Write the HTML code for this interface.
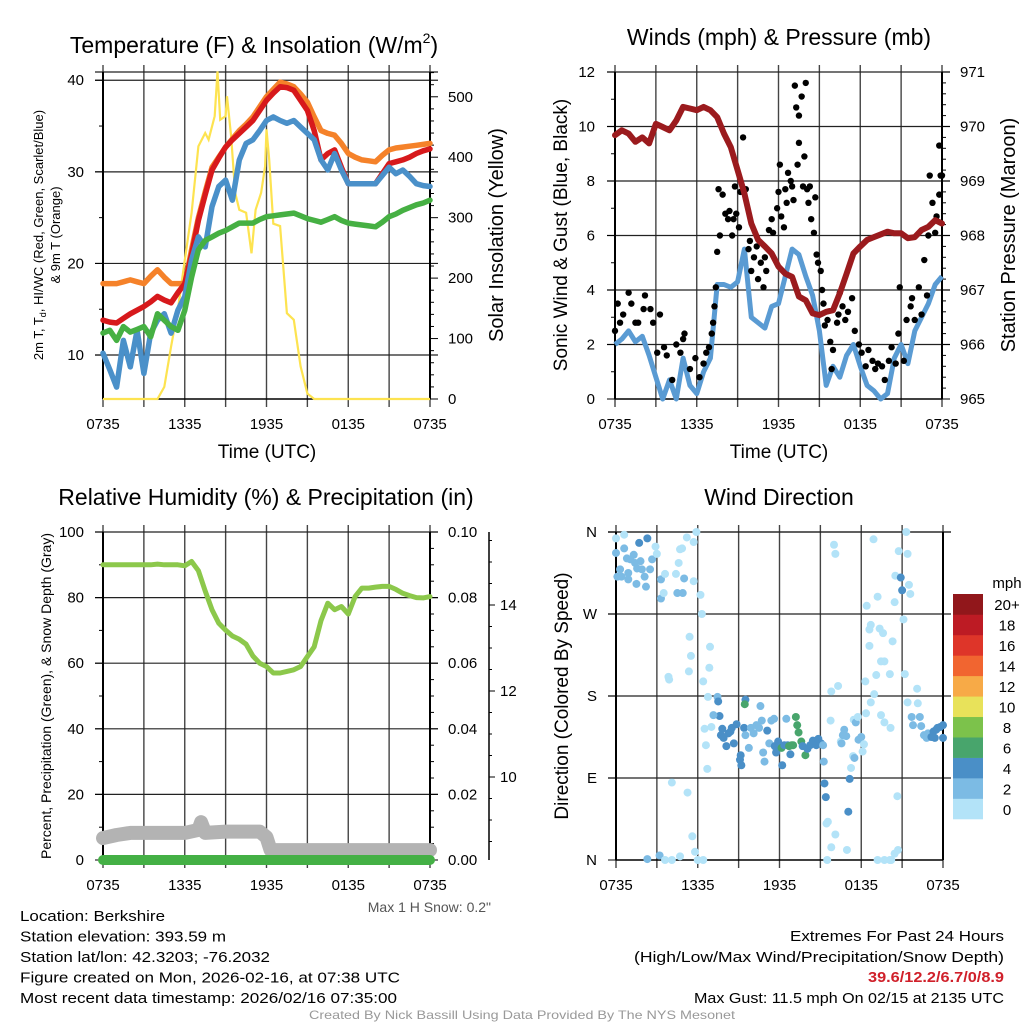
<!DOCTYPE html>
<html><head><meta charset="utf-8"><style>
body{margin:0;background:#fff}
svg{display:block;font-family:"Liberation Sans",sans-serif}
</style></head><body>
<svg id="c" width="1024" height="1024" viewBox="0 0 1024 1024" xmlns="http://www.w3.org/2000/svg"></svg>
<script>
// ===== DATA =====
const hours = [0,0.5,1,1.5,2,2.5,3,3.5,4,4.5,5,5.5,6,6.5,7,7.5,8,8.5,9,9.5,10,10.5,11,11.5,12,12.5,13,13.5,14,14.5,15,15.5,16,16.5,17,17.5,18,18.5,19,19.5,20,20.5,21,21.5,22,22.5,23,23.5,24];
const tempRed = [13.8,13.6,13.5,14,14.5,14.9,15.3,15.8,16.4,16,15.7,16.8,17.8,21,24.7,27.5,30.2,31.5,32.7,33.5,34.2,34.9,35.6,36.7,37.8,38.6,39.3,39.2,38.9,37.8,36.7,34.5,31.3,32,32.4,30.5,28.7,28.7,28.7,28.7,28.7,29.8,30.9,31.1,31.3,31.6,32,32.3,32.5];
const tempOrange = [17.8,17.8,17.8,18,18.2,18,17.8,18.6,19.3,18.5,17.8,17.8,17.8,21.5,25,27.8,30.5,31.6,32.7,33.6,34.5,35.2,36,37.1,38.2,39,39.8,39.6,39.3,38.5,37.6,36,34.5,34.2,34,33.1,32,31.6,31.3,31.2,31.1,31.8,32.4,32.6,32.7,32.8,32.9,33,33.1];
const hiwcBlue = [10.2,8.4,6.5,11.6,8.7,12.7,8,12.4,13.8,14.5,12.4,14.9,16.4,20.4,22.9,21.8,26.2,28.4,29.1,26.9,31.3,33.1,33.5,34.5,35.6,36,35.6,35.3,35.6,34.9,34.2,33.5,31.3,30.2,32,30.2,28.7,28.7,28.7,28.7,28.7,29.6,30.5,29.8,30.2,29.5,28.7,28.5,28.4];
const dewGreen = [12.4,12.7,11.6,13.1,12.5,12.8,13.1,12,14.5,13.8,13.1,12.7,14.9,18.5,21.5,22.5,22.9,23.3,23.6,24,24.4,24.4,24.4,24.8,25.1,25.2,25.3,25.4,25.5,25.2,24.9,24.7,24.5,24.8,25.1,24.7,24.4,24.3,24.2,24.1,24,24.5,25.1,25.4,25.8,26.1,26.4,26.6,26.9];
const solarHours = [0,4,4.5,5,5.5,6,6.5,7,7.5,7.75,8.2,8.4,8.6,9,9.1,9.4,9.7,10,10.5,10.9,11.2,11.6,11.9,12,12.2,12.5,13,13.5,14,14.5,15,15.5,24];
const solarW = [0,0,20,87,148,230,308,418,440,429,468,542,462,468,501,435,341,313,308,241,313,341,385,446,396,290,286,142,131,54,9,0,0];
const pressure = [969.84,969.93,969.87,969.72,969.8,969.69,970.05,969.99,969.93,970.11,970.36,970.33,970.3,970.36,970.3,970.17,969.87,969.62,969.2,968.77,968.22,967.92,967.8,967.67,967.43,967.3,967.24,966.88,966.81,966.57,966.54,966.6,966.63,966.94,967.3,967.67,967.8,967.92,967.97,968.02,968.07,968.04,968.04,967.95,967.97,968.1,968.16,968.28,968.22];
const windSpeed = [2,2.2,2.5,2.1,2.3,1.6,0.8,0,0.7,0,1.5,0.5,0.2,1,1.5,4.2,4.2,4.1,4.3,5.5,3,2.8,2.6,3.4,3.5,4.5,5.5,5.3,4.5,3.8,2.5,0.5,1.2,0.8,1.6,2,1.2,0.5,0.3,0,0.2,1.5,2,1.3,2.5,3,3.5,4.2,4.5];
const gustT = [0,0.2,0.37,0.6,1,1.2,1.5,1.7,2.1,2.2,2.6,2.8,3.1,3.3,3.6,3.8,4.2,4.5,4.8,5,5.1,5.5,5.9,6.2,6.5,6.7,6.9,7.1,7.2,7.3,7.4,7.5,7.6,7.7,7.9,8.1,8.3,8.4,8.6,8.7,8.8,8.9,9.1,9.2,9.4,9.6,9.8,9.9,10,10.2,10.4,10.5,10.7,10.9,11,11.1,11.3,11.5,11.6,11.9,12,12.1,12.2,12.4,12.5,12.6,12.7,12.9,13,13.1,13.2,13.3,13.4,13.5,13.5,13.7,13.8,13.9,14,14.1,14.2,14.3,14.4,14.6,14.7,14.8,14.9,15.1,15.2,15.3,15.4,15.6,15.8,15.9,16,16.3,16.4,16.5,16.7,16.9,17.1,17.4,17.6,17.9,18.1,18.4,18.6,18.9,19.1,19.3,19.6,19.8,20.1,20.3,20.6,20.8,20.9,21.2,21.4,21.7,21.8,22,22.3,22.5,22.7,22.9,23,23.1,23.3,23.5,23.6,23.8,23.8,23.9,24];
const gustV = [2.5,3.5,2.8,3.1,3.9,3.5,2.8,2.8,3.3,3.8,3.3,2.8,1.7,3.1,1.9,1.6,0.7,2,1.7,2.2,2.4,1.1,1.5,0.8,1.3,1.7,1.9,2.4,2.8,3.4,4.1,5.4,7.7,6,7.5,6.8,6.6,6.9,6,6.6,7.8,6.8,6.3,7.6,9.6,7.7,5.5,5.8,4.7,5.2,5.6,4.4,5,4.1,5.2,4.7,6.2,6.6,6.1,7,7.6,8.6,6.7,6.3,7.7,7.2,8.3,8,7.8,7.3,11.5,10.7,8.6,9.4,10.4,11.1,7.8,8.9,11.6,7.7,7.2,7.8,6.6,6.1,7.4,5.3,5,4.7,4,3.5,2.7,2.9,2.1,1.1,1.8,2.8,3.1,3.9,3.4,2.9,3.2,3.7,2.5,2,1.7,1.2,1.8,1.4,1.1,1.3,1.2,0.7,1.4,1.9,1.3,2.4,4.1,1.4,2.9,3.4,3.7,2.9,4.1,3.1,5.1,3.8,6,8.2,7.2,6.1,6.7,7.5,9.3,8.2,8.2];
const rh = [90,90,90,90,90,90,90,90,90.2,90,90,90,89.7,91,88.2,82,76.3,72.2,70.1,68.3,67.3,65.8,62.2,60,59,57,57,57.5,58,59,62,65,73,78.3,76.3,77.3,75,80.3,82.9,82.9,83.2,83.4,83.4,82.5,81.3,80.6,80,79.9,80.3];
const snowHours = [0,1,2,4,6,7,7.2,7.5,9,11.5,12,12.3,24];
const snowDepth = [8.58,8.65,8.7,8.7,8.7,8.77,8.95,8.7,8.73,8.73,8.6,8.3,8.3];
const precipHours = [0,24];
const precip = [0,0];
const dirT = [0,0,0.6,0.6,0.8,0.3,0.4,0.9,1.05,1.3,1.4,1.55,1.7,1.8,1.9,2.1,2.3,2.2,2.5,2.65,2.9,3,1.5,0.9,0.1,3.3,3.3,3.6,3.5,4.4,4.5,4.9,5,4.6,4.7,4.85,5.2,5.7,5.9,5.7,6.2,6.3,
5.4,5.5,5.35,3.85,3.9,6.4,6.9,6.85,6.75,6.5,6.6,6.7,4.1,5.25,5.6,5.8,3.2,2.3,3.6,4.1,4.7,6,6.4,
7.45,7.5,7.6,7.15,7,7.8,7.7,7.9,8.1,8.25,8.4,8.5,8.65,8.85,9.1,9.15,9.2,9.4,9.5,9.45,9.5,9.75,9.9,10.1,10.3,10.5,10.6,10.7,10.8,10.9,11.1,11.25,11.4,11.6,11.65,11.75,11.9,12,12.15,12.2,12.35,12.5,12.6,12.8,12.7,12.9,13,13.2,13.3,13.4,13.6,13.7,13.9,14.05,14.25,14.45,14.7,14.85,15.05,15.2,15.25,15.3,15.4,15.55,15.45,15.8,16.1,15.5,15.75,15.8,16.3,16,16.1,
16.5,16.65,16.75,16.9,16.55,16.95,17.05,17.15,17.25,17.4,17.5,17.45,17.6,17.75,17.8,18,18.1,18.2,18.35,18.3,18.4,18.6,18.7,18.6,18.7,18.95,19.1,18.9,19.2,19.35,19.45,19.6,19.7,19.45,19.7,20.1,20.15,20.3,20.45,20.5,20.75,20.9,21,21.1,21.2,21.3,21.4,21.5,21.6,21.4,22.1,22.15,21.7,21.8,22.3,22.4,22.6,22.8,22.9,23.15,23.3,23.4,23.5,23.6,23.8,24,24,20.65,20.7,20.45,19.2,19.7,20.1,20.2];
const dirDeg = [337,353,342,357,331,319,311,315,330,335,326,320,348,328,319,311,353,300,319,330,344,336,303,308,311,308,287,314,293,314,293,293,309,326,341,342,354,349,360,306,291,270,
245,224,207,201,198,196,234,211,179,144,126,100,85,74,26,9,5,1,0,0,4,0,0,
179,174,158,159,146,144,137,134,125,139,141,145,128,149,110,115,104,145,176,171,137,123,145,139,148,145,169,153,118,108,142,128,153,155,125,118,130,125,123,104,126,155,126,116,125,126,126,157,148,140,130,125,115,122,126,131,126,133,128,126,108,84,69,42,40,14,28,0,153,185,191,346,336,
130,137,143,136,128,11,53,89,101,114,112,154,151,157,132,135,119,127,161,196,279,253,258,235,173,182,203,352,289,254,218,249,218,159,151,204,145,240,283,312,339,310,296,264,204,360,336,302,292,173,188,172,157,148,157,147,137,134,139,135,141,134,143,145,146,148,134,70,11,7,0,0,0,0];
const dirSpd = [3,1,3,1,3,3,3,3,3,3,3,3,5,3,3,3,5,3,3,3,1,1,3,3,3,3,3,1,1,1,3,3,3,1,1,1,1,1,1,1,1,1,
1,1,1,1,1,1,1,1,1,1,1,1,1,1,1,1,3,3,1,1,1,1,1,
3,5,5,3,1,5,5,5,5,5,5,5,5,5,5,5,5,5,5,7,3,3,3,3,3,3,3,3,3,3,5,3,3,3,5,5,5,5,7,5,5,3,5,5,7,7,7,7,7,7,7,5,7,5,5,5,5,5,5,3,3,5,5,1,1,1,1,1,1,1,1,1,1,
1,3,3,3,3,1,5,5,1,1,3,1,3,1,3,3,1,1,1,1,1,1,1,1,1,1,1,1,1,1,1,1,1,1,1,1,1,1,1,1,1,5,5,1,1,1,1,1,1,1,1,1,3,3,3,3,3,3,3,5,5,5,5,5,5,5,5,1,1,1,1,1,1,1];
const timeLabels = ["0735","1335","1935","0135","0735"];
const colorbarLabels = ["0","2","4","6","8","10","12","14","16","18","20+"];
const colorbarColors = ["#b3e3f8","#7cbbe4","#4a8fc7","#48a56c","#7cc24b","#e8e25a","#f7aa47","#f16530","#de3529","#bd1b24","#91171b"];

// ===== DRAWING =====
const S = document.getElementById('c');
const NS = 'http://www.w3.org/2000/svg';
function mk(tag, attrs, parent, txt){
  const e = document.createElementNS(NS, tag);
  for (const k in attrs) e.setAttribute(k, attrs[k]);
  if (txt !== undefined) e.textContent = txt;
  (parent || S).appendChild(e);
  return e;
}
const X0 = 103, X1 = 430;
function xs(off){ return t => off + X0 + t / 24 * (X1 - X0); }
function lin(d0, d1, p0, p1){ return v => p0 + (v - d0) / (d1 - d0) * (p1 - p0); }
function pathOf(ts, vs, fx, fy){ return ts.map((t,i)=>(i?'L':'M')+fx(t).toFixed(1)+','+fy(vs[i]).toFixed(1)).join(''); }

function frame(g, off, top, bot, hgrid){
  const fx = xs(off);
  for (let i=0;i<=8;i++){
    const x = fx(i*3);
    const l = mk('line',{x1:x,y1:top-7,x2:x,y2:bot+8,stroke:'#444','stroke-width':1.4},g);
    
    
  }
  hgrid.forEach(y=>{
    const l = mk('line',{x1:off+X0-8,y1:y,x2:off+X1+8,y2:y,stroke:'#222','stroke-width':1.2},g);
    
    
  });
  mk('line',{x1:off+X0,y1:top,x2:off+X0,y2:bot,stroke:'#000','stroke-width':2},g);
  mk('line',{x1:off+X1,y1:top,x2:off+X1,y2:bot,stroke:'#000','stroke-width':2},g);
  mk('line',{x1:off+X0,y1:bot,x2:off+X1,y2:bot,stroke:'#000','stroke-width':1.5},g);
  timeLabels.forEach((s,i)=>{
    const t = mk('text',{x:fx(i*6),y:bot+30,'font-size':15,'text-anchor':'middle'},g,s);
    
    
  });
}
function ticks(g, x, vals, fy, len, fmt, anchor, lx, minor){
  vals.forEach(v=>{
    mk('line',{x1:x,y1:fy(v),x2:x+len,y2:fy(v),stroke:'#000','stroke-width':1},g);
    const t = mk('text',{x:lx,y:fy(v)+5,'font-size':15,'text-anchor':anchor},g,fmt(v));
    
    
  });
  (minor||[]).forEach(v=>mk('line',{x1:x,y1:fy(v),x2:x+len/2,y2:fy(v),stroke:'#000','stroke-width':1},g));
}
function title(txt, x, y, size, rot, name){
  const a = {x:x,y:y,'font-size':size,'text-anchor':'middle'};
  if (rot) a.transform = 'rotate(-90 '+x+' '+y+')';
  const t = mk('text',a,S,txt);
  
  
  return t;
}

// ---- Panel 1: temperature ----
(function(){
  const g = mk('g',{});  
  const fx = xs(0), fy = lin(5.2,40.9,399,72), fs = lin(0,541,399,72);
  frame(g,0,72,399,[72,fy(10),fy(20),fy(30),fy(40)]);
  ticks(g,X0,[10,20,30,40],fy,-8,v=>v,'end',84,[15,25,35]);
  ticks(g,X1,[0,100,200,300,400,500],fs,8,v=>v,'start',448,[20,40,60,80,120,140,160,180,220,240,260,280,320,340,360,380,420,440,460,480,520,540]);
  const lines = [[hours,tempOrange,'#f5822a','temperature-9m-line'],[hours,tempRed,'#d7191c','temperature-2m-line'],[hours,hiwcBlue,'#4a90c9','heat-index-wind-chill-line'],[hours,dewGreen,'#46b043','dewpoint-line']];
  const sp = mk('path',{d:pathOf(solarHours,solarW,fx,fs),fill:'none',stroke:'#fde350','stroke-width':2.2},g);
   
  lines.forEach(l=>{
    const p = mk('path',{d:pathOf(l[0],l[1],fx,fy),fill:'none',stroke:l[2],'stroke-width':5.5,'stroke-linejoin':'round','stroke-linecap':'round'},g);
     
  });
})();
const t1 = title('Temperature (F) & Insolation (W/m',254,53,23,false,'temperature-chart-title');
mk('tspan',{'font-size':14,dy:-10},t1,'2'); mk('tspan',{dy:10},t1,')');
title('Time (UTC)',267,458,19,false,'x-axis-title');
const yl = mk('text',{x:43,y:235,'font-size':13,'text-anchor':'middle',transform:'rotate(-90 43 235)'});
 
yl.appendChild(document.createTextNode('2m T, T'));
mk('tspan',{'font-size':9,dy:3},yl,'d'); mk('tspan',{dy:-3},yl,', HI/WC (Red, Green, Scarlet/Blue)');
title('& 9m T (Orange)',60,235,13,true,'temperature-y-axis-title-2');
title('Solar Insolation (Yellow)',503,235,20,true,'solar-y-axis-title');

// ---- Panel 2: winds ----
(function(){
  const off = 512;
  const g = mk('g',{});  
  const fx = xs(off), fy = lin(0,12,399,72), fp = lin(965,971,399,72);
  frame(g,off,72,399,[72,fy(2),fy(4),fy(6),fy(8),fy(10)]);
  ticks(g,off+X0,[0,2,4,6,8,10,12],fy,-8,v=>v,'end',595,[1,3,5,7,9,11]);
  ticks(g,off+X1,[965,966,967,968,969,970,971],fp,8,v=>v,'start',960,[965.2,965.4,965.6,965.8,966.2,966.4,966.6,966.8,967.2,967.4,967.6,967.8,968.2,968.4,968.6,968.8,969.2,969.4,969.6,969.8,970.2,970.4,970.6,970.8]);
  const w = mk('path',{d:pathOf(hours,windSpeed,fx,fy),fill:'none',stroke:'#5a9bd3','stroke-width':5,'stroke-linejoin':'round'},g);
   
  gustT.forEach((t,i)=>{
    const c = mk('circle',{cx:fx(t),cy:fy(gustV[i]),r:3.2,fill:'#000'},g);
    
    
  });
  const p = mk('path',{d:pathOf(hours,pressure,fx,fp),fill:'none',stroke:'#9b1b1e','stroke-width':6,'stroke-linejoin':'round','stroke-linecap':'round'},g);
   
})();
title('Winds (mph) & Pressure (mb)',779,45,23,false,'winds-chart-title');
title('Time (UTC)',779,458,19,false,'x-axis-title');
title('Sonic Wind & Gust (Blue, Black)',567,235,19,true,'wind-y-axis-title');
title('Station Pressure (Maroon)',1015,235,20,true,'pressure-y-axis-title');

// ---- Panel 3: RH ----
(function(){
  const g = mk('g',{});  
  const fx = xs(0), fy = lin(0,100,860,532), fpr = lin(0,0.1,860,532), fsn = lin(10,12,777,691);
  frame(g,0,532,860,[532,fy(20),fy(40),fy(60),fy(80)]);
  ticks(g,X0,[0,20,40,60,80,100],fy,-8,v=>v,'end',84,[10,30,50,70,90]);
  ticks(g,X1,[0,0.02,0.04,0.06,0.08,0.1],fpr,8,v=>v.toFixed(2),'start',448,[0.005,0.01,0.015,0.025,0.03,0.035,0.045,0.05,0.055,0.065,0.07,0.075,0.085,0.09,0.095]);
  mk('line',{x1:489,y1:532,x2:489,y2:860,stroke:'#000','stroke-width':1.5},g);
  ticks(g,489,[10,12,14],fsn,6,v=>v,'start',500,[8.5,9,9.5,10.5,11,11.5,12.5,13,13.5,14.5,15,15.5]);
  const sn = mk('path',{d:pathOf(snowHours,snowDepth,fx,fsn),fill:'none',stroke:'#b3b3b3','stroke-width':14,'stroke-linejoin':'round','stroke-linecap':'round'},g);
   
  const pr = mk('path',{d:pathOf(precipHours,precip,fx,fpr),fill:'none',stroke:'#44b045','stroke-width':10,'stroke-linecap':'round'},g);
   
  const r = mk('path',{d:pathOf(hours,rh,fx,fy),fill:'none',stroke:'#8cc84b','stroke-width':5,'stroke-linejoin':'round','stroke-linecap':'round'},g);
   
})();
title('Relative Humidity (%) & Precipitation (in)',266,505,23,false,'humidity-chart-title');
title('Percent, Precipitation (Green), & Snow Depth (Gray)',51,696,14,true,'humidity-y-axis-title');
const ms = mk('text',{x:491,y:912,'font-size':14,'text-anchor':'end',fill:'#555'},S,'Max 1 H Snow: 0.2"');
 

// ---- Panel 4: wind direction ----
(function(){
  const off = 513;
  const g = mk('g',{});  
  const fx = xs(off), fy = lin(0,360,860,532);
  frame(g,off,532,860,[532,fy(90),fy(180),fy(270),fy(360)]);
  ticks(g,off+X0,[0,90,180,270,360],fy,-8,v=>['N','E','S','W','N'][v/90],'end',597,[]);
  function bin(s){ return Math.min(10, Math.floor(s/2)); }
  dirT.forEach((t,i)=>{
    const c = mk('circle',{cx:fx(t),cy:fy(dirDeg[i]),r:4,fill:colorbarColors[bin(dirSpd[i])]},g);
    
    
  });
  const cb = mk('g',{});  
  const h = (819-594)/colorbarColors.length;
  colorbarColors.forEach((col,i)=>{
    const y = 819 - (i+1)*h;
    mk('rect',{x:953,y:y,width:30,height:h+0.3,fill:col},cb);
    const t = mk('text',{x:1007,y:y+h/2+6,'font-size':15,'text-anchor':'middle'},cb,colorbarLabels[i]);
    
    
  });
  mk('text',{x:1007,y:588,'font-size':15,'text-anchor':'middle'},cb,'mph');
})();
title('Wind Direction',779,505,23,false,'wind-direction-chart-title');
title('Direction (Colored By Speed)',568,696,19,true,'direction-y-axis-title');

// ---- Footer text ----
const left = ['Location: Berkshire','Station elevation: 393.59 m','Station lat/lon: 42.3203; -76.2032','Figure created on Mon, 2026-02-16, at 07:38 UTC','Most recent data timestamp: 2026/02/16 07:35:00'];
const leftW = [145,206,250,380,377];
left.forEach((s,i)=>{
  const t = mk('text',{x:20,y:921+i*20.5,'font-size':15,textLength:leftW[i],lengthAdjust:'spacingAndGlyphs'},S,s);
  
  
});
const right = [['Extremes For Past 24 Hours',214,'#000',941],['(High/Low/Max Wind/Precipitation/Snow Depth)',370,'#000',962],['39.6/12.2/6.7/0/8.9',136,'#d0202a',982],['Max Gust: 11.5 mph On 02/15 at 2135 UTC',310,'#000',1003]];
right.forEach(r=>{
  const t = mk('text',{x:1004-r[1],y:r[3],'font-size':15,fill:r[2],textLength:r[1],lengthAdjust:'spacingAndGlyphs','font-weight':r[2]==='#000'?'normal':'bold'},S,r[0]);
  
  
});
const cr = mk('text',{x:309,y:1019,'font-size':12,fill:'#999',textLength:426,lengthAdjust:'spacingAndGlyphs'},S,'Created By Nick Bassill Using Data Provided By The NYS Mesonet');
 
</script>
</body></html>
